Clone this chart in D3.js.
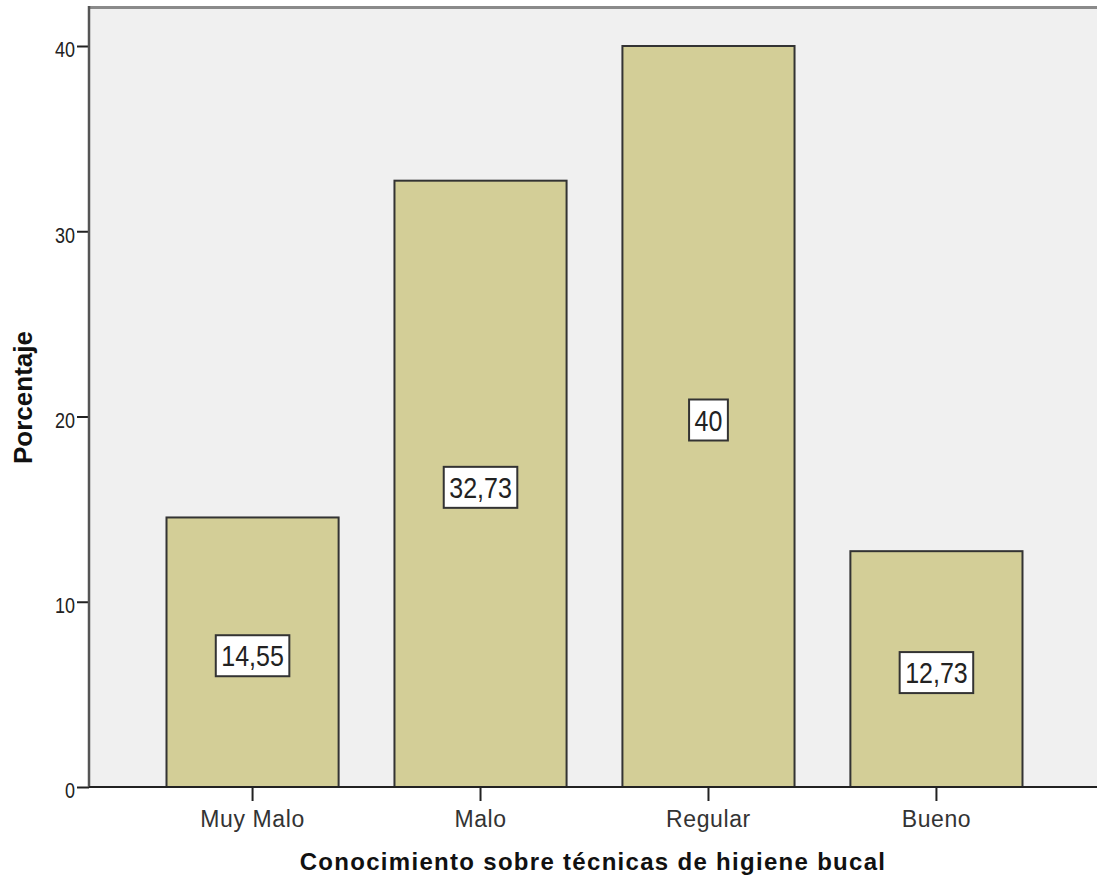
<!DOCTYPE html>
<html>
<head>
<meta charset="utf-8">
<script src="https://cdn.jsdelivr.net/npm/d3@7"></script>
<style>
  html, body { margin: 0; padding: 0; background: #fff; }
  svg { display: block; }
  text { font-family: "Liberation Sans", Arial, sans-serif; }
</style>
</head>
<body>
<svg id="chart" width="1097" height="881"></svg>
<script>
const categories = ["Muy Malo", "Malo", "Regular", "Bueno"];
const values = [14.55, 32.73, 40, 12.73];
const valueLabels = ["14,55", "32,73", "40", "12,73"];
const yTicks = [0, 10, 20, 30, 40];
const yTickLabels = ["0", "10", "20", "30", "40"];
const xTitle = "Conocimiento sobre técnicas de higiene bucal";
const yTitle = "Porcentaje";

const W = 1097, H = 881;
const plot = { left: 89, top: 8, right: 1097, bottom: 787 };

const svg = d3.select("#chart");

const y = d3.scaleLinear().domain([0, 40]).range([plot.bottom, 46]);
const x = d3.scaleBand().domain(categories).range([plot.left, 1100])
  .paddingInner(0.245).paddingOuter(0.34);

// plot background
svg.append("rect")
  .attr("x", plot.left).attr("y", plot.top)
  .attr("width", plot.right - plot.left + 5).attr("height", plot.bottom - plot.top)
  .attr("fill", "#f0f0f0");

// top border
svg.append("line")
  .attr("x1", plot.left).attr("x2", W)
  .attr("y1", plot.top - 0.5).attr("y2", plot.top - 0.5)
  .attr("stroke", "#8a8a8a").attr("stroke-width", 3);

// bars
svg.append("g").selectAll("rect").data(values).join("rect")
  .attr("x", (d, i) => x(categories[i]))
  .attr("y", d => y(d))
  .attr("width", x.bandwidth())
  .attr("height", d => y(0) - y(d))
  .attr("fill", "#d3ce97")
  .attr("stroke", "#333")
  .attr("stroke-width", 2);

// y axis
const yAxis = d3.axisLeft(y).tickValues(yTicks)
  .tickFormat((d, i) => yTickLabels[i]).tickSize(12).tickPadding(2);
const gy = svg.append("g").attr("transform", `translate(${plot.left},0)`).call(yAxis);
gy.select(".domain").remove();
gy.selectAll(".tick line").attr("stroke", "#222").attr("stroke-width", 2);
gy.selectAll(".tick text")
  .attr("font-size", 18).attr("fill", "#222")
  .attr("x", -14).attr("dy", "0.5em")
  .attr("transform", "scale(1,1.2)");

// left axis line
svg.append("line")
  .attr("x1", plot.left).attr("x2", plot.left)
  .attr("y1", plot.top - 2).attr("y2", plot.bottom)
  .attr("stroke", "#555").attr("stroke-width", 2.5);

// x axis
const xAxis = d3.axisBottom(x).tickSize(14).tickPadding(6);
const gx = svg.append("g").attr("transform", `translate(0,${plot.bottom})`).call(xAxis);
gx.select(".domain").remove();
gx.selectAll(".tick line").attr("stroke", "#222").attr("stroke-width", 2);
gx.selectAll(".tick text")
  .attr("font-size", 23).attr("fill", "#333")
  .attr("letter-spacing", 0.6)
  .attr("y", 0).attr("dy", 0)
  .attr("transform", "translate(0,40)");

svg.append("line")
  .attr("x1", plot.left).attr("x2", W)
  .attr("y1", plot.bottom).attr("y2", plot.bottom)
  .attr("stroke", "#222").attr("stroke-width", 2);

// value labels
const lab = svg.append("g").selectAll("g").data(values).join("g")
  .attr("transform", (d, i) => `translate(${x(categories[i]) + x.bandwidth() / 2},${(y(d) + y(0)) / 2 + 3.5})`);
lab.each(function(d, i) {
  const g = d3.select(this);
  const rect = g.append("rect").attr("fill", "#fff").attr("stroke", "#333").attr("stroke-width", 2);
  const t = g.append("text")
    .attr("text-anchor", "middle")
    .attr("font-size", 25).attr("fill", "#222")
    .attr("y", 0.358 * 25)
    .attr("transform", "scale(1,1.2)")
    .text(valueLabels[i]);
  const tw = t.node().getComputedTextLength();
  const bw = tw + 11, bh = 41;
  rect.attr("x", -bw / 2).attr("y", -bh / 2).attr("width", bw).attr("height", bh);
});

// axis titles
svg.append("text")
  .attr("x", (plot.left + plot.right) / 2).attr("y", 870)
  .attr("text-anchor", "middle")
  .attr("font-size", 24).attr("font-weight", "bold").attr("fill", "#111")
  .attr("letter-spacing", 1.3)
  .text(xTitle);

svg.append("text")
  .attr("transform", `translate(32,${(plot.top + plot.bottom) / 2}) rotate(-90)`)
  .attr("text-anchor", "middle")
  .attr("font-size", 26).attr("font-weight", "bold").attr("fill", "#111")
  .text(yTitle);
</script>
</body>
</html>
